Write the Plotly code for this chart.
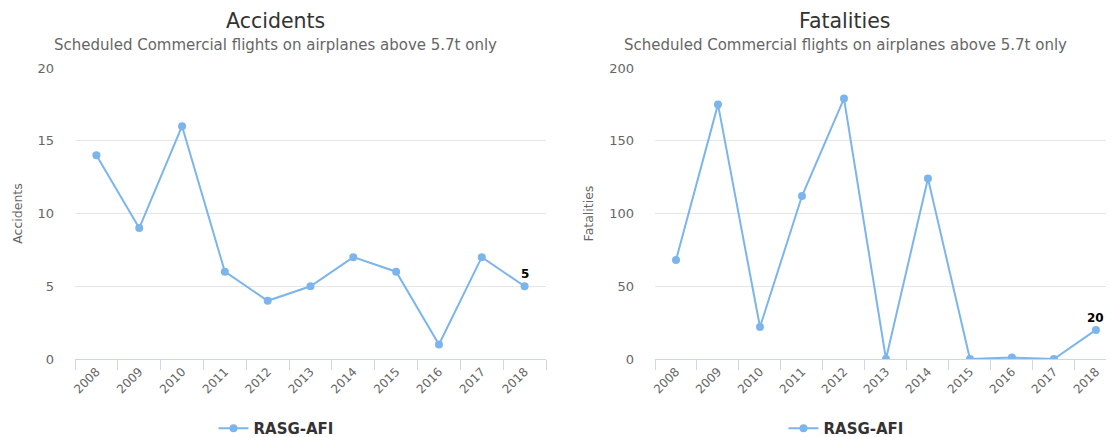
import plotly.graph_objects as go

years = ['2008', '2009', '2010', '2011', '2012', '2013', '2014', '2015', '2016', '2017', '2018']
accidents = [14, 9, 16, 6, 4, 5, 7, 6, 1, 7, 5]
fatalities = [68, 175, 22, 112, 179, 0, 124, 0, 1, 0, 20]
series_name = 'RASG-AFI'
subtitle = 'Scheduled Commercial flights on airplanes above 5.7t only'

# the page body has an 8px margin, so shift everything by that
OFF = 8
W, H = 1114 - OFF, 437
FONT = 'DejaVu Sans, Liberation Sans, sans-serif'
blue = '#7cb5ec'
axis_col = '#ccd6eb'

def px_x(p):
    return (p - OFF) / W

def px_y(p):
    return (H - (p - OFF)) / H

fig = go.Figure()

fig.add_trace(go.Scatter(
    x=years, y=accidents, name='<b>' + series_name + '</b>',
    mode='lines+markers', line=dict(color=blue, width=2),
    marker=dict(size=8, color=blue), xaxis='x', yaxis='y', legend='legend'
))
fig.add_trace(go.Scatter(
    x=years, y=fatalities, name='<b>' + series_name + '</b>',
    mode='lines+markers', line=dict(color=blue, width=2),
    marker=dict(size=8, color=blue), xaxis='x2', yaxis='y2', legend='legend2'
))

xcommon = dict(
    type='category', tickson='boundaries', ticks='outside', ticklen=10,
    tickcolor=axis_col, showgrid=False, showline=True, linecolor=axis_col,
    linewidth=1, tickangle=-45, tickfont=dict(size=12, color='#666666', family=FONT),
    zeroline=False, fixedrange=True, automargin=False,
)
ycommon = dict(
    showgrid=True, gridcolor='#e6e6e6', zeroline=False, showline=False,
    tickfont=dict(size=13, color='#666666', family=FONT), ticks='',
    ticklabelstandoff=20, fixedrange=True, automargin=False,
)

fig.update_layout(
    width=W, height=H,
    margin=dict(l=0, r=0, t=0, b=0),
    paper_bgcolor='white', plot_bgcolor='white',
    font=dict(family=FONT),
    xaxis=dict(xcommon, domain=[px_x(75), px_x(546)], range=[-0.5, 10.5], anchor='y'),
    yaxis=dict(ycommon, domain=[px_y(359), px_y(68)], range=[0, 20], dtick=5, anchor='x',
               title=dict(text='Accidents', font=dict(size=12.5, color='#666666'), standoff=12)),
    xaxis2=dict(xcommon, domain=[px_x(655), 1.0], range=[-0.5, 10.43], anchor='y2'),
    yaxis2=dict(ycommon, domain=[px_y(359), px_y(68)], range=[0, 200], dtick=50, anchor='x2',
                title=dict(text='Fatalities', font=dict(size=12.5, color='#666666'), standoff=12)),
    legend=dict(orientation='h', x=px_x(276), y=0, xanchor='center', yanchor='bottom',
                font=dict(size=15, color='#333333', family=FONT), bgcolor='rgba(0,0,0,0)'),
    legend2=dict(orientation='h', x=px_x(846), y=0, xanchor='center', yanchor='bottom',
                 font=dict(size=15, color='#333333', family=FONT), bgcolor='rgba(0,0,0,0)'),
    showlegend=True,
)

def label(text, x, y, size, color, anchor='middle'):
    return dict(text=text, x=px_x(x), y=px_y(y), xref='paper', yref='paper',
                xanchor='center', yanchor=anchor, showarrow=False, borderpad=0,
                font=dict(size=size, color=color, family=FONT))

last = len(years) - 1
annotations = [
    label('Accidents', 275, 8, 20.5, '#333333', 'top'),
    label(subtitle, 275, 45, 15, '#666666'),
    label('Fatalities', 845, 8, 20.5, '#333333', 'top'),
    label(subtitle, 845, 45, 15, '#666666'),
    dict(text='<b>%d</b>' % accidents[last], x=last, y=accidents[last], xref='x', yref='y',
         showarrow=False, yshift=12, font=dict(size=12, color='#000000', family=FONT)),
    dict(text='<b>%d</b>' % fatalities[last], x=last, y=fatalities[last], xref='x2', yref='y2',
         showarrow=False, yshift=12, font=dict(size=12, color='#000000', family=FONT)),
]
fig.update_layout(annotations=annotations)

fig.write_html('out.html')
